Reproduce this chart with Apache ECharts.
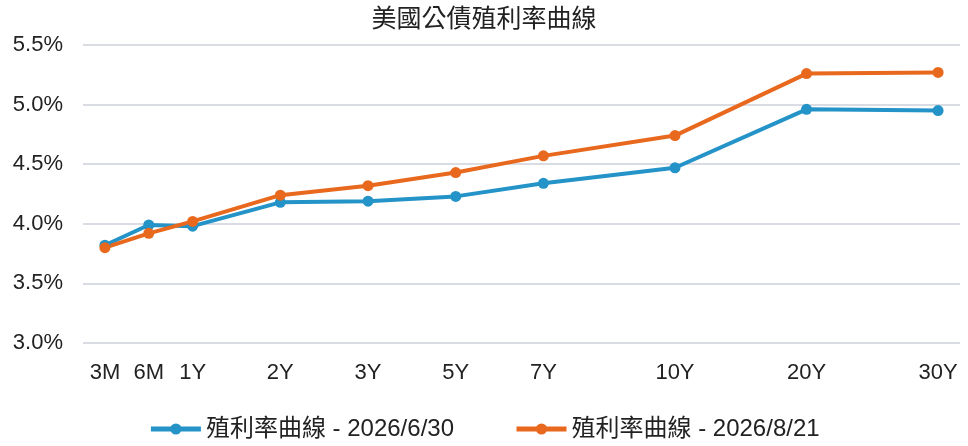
<!DOCTYPE html>
<html>
<head>
<meta charset="utf-8">
<script src="https://cdn.jsdelivr.net/npm/echarts@6/dist/echarts.min.js"></script>
<style>
  html, body { margin: 0; padding: 0; background: #fff; }
  #chart { width: 968px; height: 446px; }
</style>
</head>
<body>
<div id="chart"></div>
<script>
var tenors = ['3M', '6M', '1Y', '2Y', '3Y', '5Y', '7Y', '10Y', '20Y', '30Y'];
// slot of each tenor on the 20-slot axis (gaps like the original)
var slots = [0, 1, 2, 4, 6, 8, 10, 13, 16, 19];
var yieldJun = [3.82, 3.99, 3.98, 4.18, 4.19, 4.23, 4.34, 4.47, 4.96, 4.95];
var yieldAug = [3.80, 3.92, 4.02, 4.24, 4.32, 4.43, 4.57, 4.74, 5.26, 5.27];
var nameJun = '殖利率曲線 - 2026/6/30';
var nameAug = '殖利率曲線 - 2026/8/21';
var yTicks = [3.0, 3.5, 4.0, 4.5, 5.0, 5.5];

var font = "'Liberation Sans Narrow', 'Arial Narrow', 'Liberation Sans', 'Noto Sans CJK TC', sans-serif";
var slotCount = 20;
var cats = [];
for (var i = 0; i < slotCount; i++) cats.push('');
for (var k = 0; k < tenors.length; k++) cats[slots[k]] = tenors[k];

function spread(vals) {
    var out = [];
    for (var i = 0; i < slotCount; i++) out.push(null);
    for (var k = 0; k < vals.length; k++) out[slots[k]] = vals[k];
    return out;
}

var myChart = echarts.init(document.getElementById('chart'));
var option = {
    backgroundColor: '#fff',
    textStyle: { fontFamily: font },
    title: {
        text: '美國公債殖利率曲線',
        left: 'center',
        top: 3,
        textStyle: { fontSize: 25, fontWeight: 'normal', color: '#222', fontFamily: font }
    },
    legend: {
        bottom: 0,
        left: 'center',
        itemWidth: 50,
        itemHeight: 14,
        itemGap: 60,
        lineStyle: { width: 5 },
        textStyle: { fontSize: 24, color: '#222', fontFamily: font },
        data: [nameJun, nameAug]
    },
    grid: { left: 83, right: 8, top: 45, bottom: 103 },
    xAxis: {
        type: 'category',
        data: cats,
        boundaryGap: true,
        axisLine: { show: false },
        axisTick: { show: false },
        axisLabel: { interval: 0, fontSize: 22, color: '#222', margin: 19, fontFamily: font }
    },
    yAxis: {
        type: 'value',
        min: yTicks[0],
        max: yTicks[yTicks.length - 1],
        interval: 0.5,
        axisLine: { show: false },
        axisTick: { show: false },
        splitLine: { lineStyle: { color: '#d9dce2', width: 2 } },
        axisLabel: {
            fontSize: 22, color: '#222', margin: 20, fontFamily: font,
            formatter: function (v) { return v.toFixed(1) + '%'; }
        }
    },
    series: [
        {
            name: nameJun,
            type: 'line',
            data: spread(yieldJun),
            connectNulls: true,
            symbol: 'circle',
            symbolSize: 11,
            color: '#2493c8',
            lineStyle: { width: 4 }
        },
        {
            name: nameAug,
            type: 'line',
            data: spread(yieldAug),
            connectNulls: true,
            symbol: 'circle',
            symbolSize: 11,
            color: '#e8691e',
            lineStyle: { width: 4 }
        }
    ]
};
myChart.setOption(option);
</script>
</body>
</html>
